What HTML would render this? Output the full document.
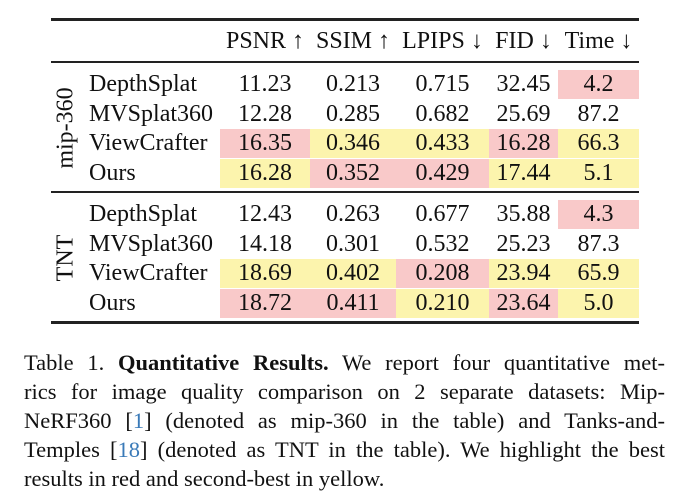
<!DOCTYPE html>
<html><head><meta charset="utf-8"><style>
body{margin:0;width:678px;height:503px;background:#fff;position:relative;overflow:hidden;font-family:"Liberation Serif","DejaVu Serif",serif;color:#111}
.a{position:absolute}
.rule{position:absolute;left:51px;width:588px;background:#222}
.cell{position:absolute;height:29px;line-height:29px;text-align:center;font-size:24px;white-space:nowrap}
.lab{position:absolute;left:89px;height:29px;line-height:29px;font-size:24px;white-space:nowrap}
.hd{position:absolute;top:27px;height:28px;line-height:28px;font-size:24px;text-align:center;white-space:nowrap}
.r{background:#f9c9c9}.y{background:#fcf4ad}
.cap{position:absolute;left:24px;width:641px;font-size:22.5px;line-height:29px;text-align:justify;text-align-last:justify;white-space:nowrap}
</style></head><body>
<div class="rule" style="top:18px;height:3px"></div>
<div class="rule" style="top:61px;height:2px"></div>
<div class="rule" style="top:191px;height:2px"></div>
<div class="rule" style="top:321px;height:3px"></div>
<div class="hd" style="left:220px;width:90px">PSNR ↑</div>
<div class="hd" style="left:310px;width:86px">SSIM ↑</div>
<div class="hd" style="left:396px;width:93px">LPIPS ↓</div>
<div class="hd" style="left:489px;width:69px">FID ↓</div>
<div class="hd" style="left:558px;width:81px">Time ↓</div>
<div class="a" style="left:66px;top:128px;font-size:24px;transform:translate(-50%,-50%) rotate(-90deg);white-space:nowrap">mip-360</div>
<div class="a" style="left:66px;top:258px;font-size:24px;transform:translate(-50%,-50%) rotate(-90deg);white-space:nowrap">TNT</div>
<div id="t"></div>
<div class="cap" style="top:348px">Table 1. <b>Quantitative Results.</b> We report four quantitative met-</div>
<div class="cap" style="top:377px">rics for image quality comparison on 2 separate datasets: Mip-</div>
<div class="cap" style="top:406px">NeRF360 [<span style="color:#3a7ab8">1</span>] (denoted as mip-360 in the table) and Tanks-and-</div>
<div class="cap" style="top:435px">Temples [<span style="color:#3a7ab8">18</span>] (denoted as TNT in the table). We highlight the best</div>
<div class="cap" style="top:464px;text-align-last:left">results in red and second-best in yellow.</div>
<script>
const methods=["DepthSplat","MVSplat360","ViewCrafter","Ours"];
const mipValues=[["11.23","0.213","0.715","32.45","4.2"],["12.28","0.285","0.682","25.69","87.2"],["16.35","0.346","0.433","16.28","66.3"],["16.28","0.352","0.429","17.44","5.1"]];
const mipHi=[["","","","","r"],["","","","",""],["r","y","y","r","y"],["y","r","r","y","y"]];
const tntValues=[["12.43","0.263","0.677","35.88","4.3"],["14.18","0.301","0.532","25.23","87.3"],["18.69","0.402","0.208","23.94","65.9"],["18.72","0.411","0.210","23.64","5.0"]];
const tntHi=[["","","","","r"],["","","","",""],["y","y","r","y","y"],["r","r","y","r","y"]];
const colL=[220,310,396,489,558],colW=[90,86,93,69,81];
const t=document.getElementById('t');
function group(vals,hi,top,g){
  vals.forEach((row,i)=>{
    const y=top+i*29.5;
    const l=document.createElement('div');l.className='lab';l.style.top=y+'px';l.textContent=methods[i];
    
    
    t.appendChild(l);
    row.forEach((v,j)=>{
      const c=document.createElement('div');c.className='cell '+hi[i][j];
      c.style.top=y+'px';c.style.left=colL[j]+'px';c.style.width=colW[j]+'px';c.textContent=v;
      
      
      t.appendChild(c);
    });
  });
}
group(mipValues,mipHi,70,'mip360');
group(tntValues,tntHi,200,'tnt');
</script>
</body></html>
